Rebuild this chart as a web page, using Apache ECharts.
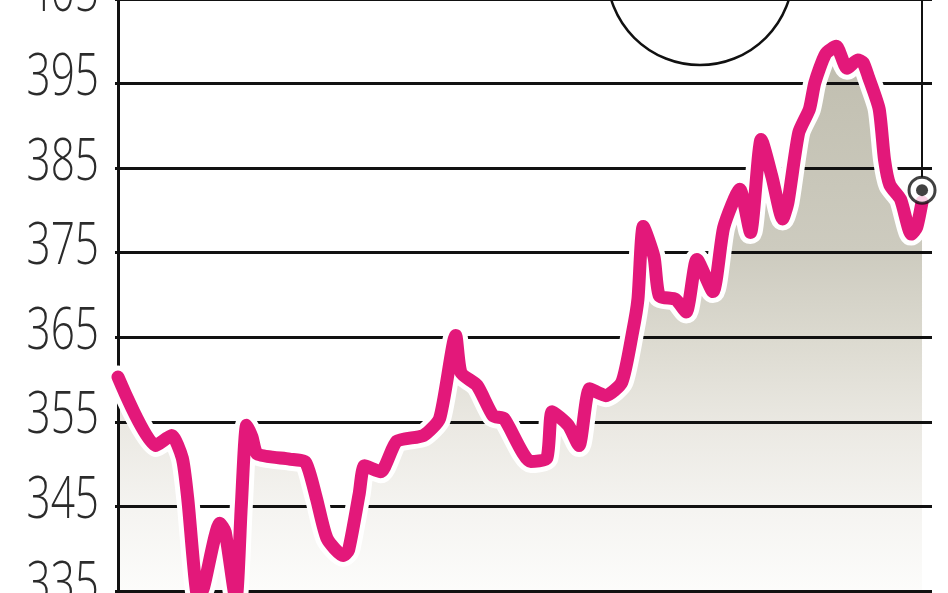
<!DOCTYPE html>
<html>
<head>
<meta charset="utf-8">
<script src="https://cdn.jsdelivr.net/npm/echarts@6/dist/echarts.min.js"></script>
<style>
html,body{margin:0;padding:0;background:#fff;}
#chart{width:948px;height:593px;}
</style>
</head>
<body>
<div id="chart"></div>
<script>
// session index, index value
var sessions = [0,7,10,12,13,15,16,19,20,22,23,24,25,26,32,35,37,39,42,43,45,46,49,52,57,60,63,64,67,70,72,77,80,81,84,86,88,91,94,96,97,98,100,101,104,106,108,111,113,116,118,120,122,124,125,127,129,130,132,134,136,138,139,140,142,143,144,146,148,149,150];
var values = [360.3,352.2,353.4,350.7,346,334,335.5,343,342,334,345,354.6,353.2,351.2,350.6,350.2,346,341.2,339.2,339.8,346.5,349.8,349.1,352.7,353.4,355.4,365.2,360.8,359.3,355.7,355.4,350.3,350.7,356.2,354.6,352.2,358.9,358.1,359.7,365.6,369.5,378.1,374.5,369.9,369.5,368,374.2,370.4,378,382.5,377.4,388.4,384,379,381,389.2,392,395.1,398.5,399.4,396.8,397.8,397.5,395.8,392,386,383,381.3,377.2,378,381];
var lastMarker = [150, 382.4];
var yTickLabels = ['335','345','355','365','375','385','395','405'];
var yTicks = {min: 335, max: 405, step: 10};

var seriesData = sessions.map(function (s, i) { return [s, values[i]]; });

var chart = echarts.init(document.getElementById('chart'));
chart.setOption({
  animation: false,
  backgroundColor: '#ffffff',
  grid: {left: 115, top: -1, width: 817, height: 592, containLabel: false, outerBoundsMode: 'none'},
  xAxis: {
    type: 'value', min: -0.56, max: 151.86, show: false
  },
  yAxis: {
    type: 'value', min: yTicks.min, max: yTicks.max, interval: yTicks.step,
    z: 2,
    axisLine: {show: true, lineStyle: {color: '#111', width: 3}},
    axisTick: {show: false},
    splitLine: {show: true, lineStyle: {color: '#111', width: 3}},
    axisLabel: {show: false}
  },
  series: [
    {
      type: 'line', data: seriesData, z: 1, symbol: 'none', smooth: 0.2,
      lineStyle: {width: 0, opacity: 0},
      areaStyle: {
        opacity: 1,
        origin: 'start',
        color: new echarts.graphic.LinearGradient(0, 0, 0, 1, [
          {offset: 0, color: '#c0beaf'},
          {offset: 0.37, color: '#cdcbbf'},
          {offset: 0.53, color: '#dcdad0'},
          {offset: 0.69, color: '#ebe9e3'},
          {offset: 0.84, color: '#f5f4f1'},
          {offset: 1, color: '#fdfdfc'}
        ])
      }
    },
    {
      type: 'line', data: seriesData, z: 3, symbol: 'none', smooth: 0.2,
      lineStyle: {color: '#ffffff', width: 23, join: 'round', cap: 'round'}
    },
    {
      type: 'line', data: seriesData, z: 4, symbol: 'none', smooth: 0.2,
      lineStyle: {color: '#e3187a', width: 13, join: 'round', cap: 'round'}
    },
    {
      type: 'scatter', data: [lastMarker], z: 5, symbol: 'circle', symbolSize: 26,
      itemStyle: {color: '#ffffff', borderColor: '#111', borderWidth: 3},
      markLine: {
        symbol: ['none', 'none'], silent: true, z: 5,
        label: {show: false},
        lineStyle: {color: '#111', width: 2, type: 'solid'},
        data: [[{coord: [lastMarker[0], lastMarker[1] + 1.5]}, {coord: [lastMarker[0], yTicks.max]}]]
      }
    },
    {
      type: 'scatter', data: [lastMarker], z: 6, symbol: 'circle', symbolSize: 12,
      itemStyle: {color: '#111'}
    }
  ]
});

// condensed tick labels placed through the y axis scale
var graphics = [{
  id: 'ring', type: 'circle', shape: {cx: 700, cy: -28, r: 93},
  style: {fill: 'none', stroke: '#111', lineWidth: 2.5}, z: 10
}];
yTickLabels.forEach(function (t, i) {
  var py = chart.convertToPixel({yAxisIndex: 0}, Number(t));
  graphics.push({
    id: 'lab' + i, type: 'text', x: 99, y: py - 5, scaleX: 0.73, z: 10,
    style: {
      text: t, align: 'right', verticalAlign: 'middle',
      font: "300 58px 'Open Sans', 'Inter', 'Liberation Sans', sans-serif", fill: '#2b2b2b'
    }
  });
});
chart.setOption({graphic: graphics});
</script>
</body>
</html>
